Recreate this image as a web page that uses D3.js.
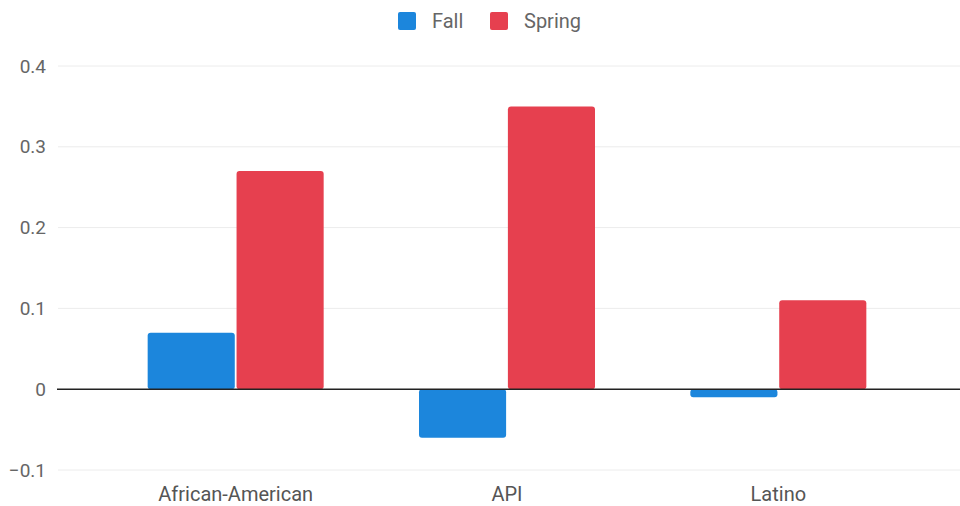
<!DOCTYPE html>
<html><head><meta charset="utf-8">
<script src="https://cdn.jsdelivr.net/npm/d3@7"></script>
<style>body{margin:0;background:#fff}svg{display:block;font-family:Roboto,"Noto Sans",sans-serif}</style>
</head><body><svg id="c" width="960" height="506"></svg>
<script>
const categories = ["African-American", "API", "Latino"];
const seriesNames = ["Fall", "Spring"];
const fallValues = [0.07, -0.06, -0.01];
const springValues = [0.27, 0.35, 0.11];
const yTicks = [-0.1, 0, 0.1, 0.2, 0.3, 0.4];
const colors = ["#1c86dc", "#e6404f"];

const svg = d3.select("#c");
const y = d3.scaleLinear().domain([-0.1, 0.4]).range([470, 66]);
const x = d3.scaleBand().domain(categories).range([100, 914]).paddingInner(0).paddingOuter(0);
const xi = d3.scaleBand().domain(seriesNames).range([0, 176]).paddingInner(0.02);

// grid
svg.append("g").selectAll("line").data(yTicks.filter(d => d !== 0)).join("line")
  .attr("x1", 58).attr("x2", 960).attr("y1", d => y(d)).attr("y2", d => y(d))
  .attr("stroke", "#ececec").attr("stroke-width", 1);

// y axis labels
const yAxis = d3.axisLeft(y).tickValues(yTicks).tickSize(0).tickPadding(0)
  .tickFormat(d => d === 0 ? "0" : d3.format(".1f")(d));
const ya = svg.append("g").attr("transform", "translate(46,0)").call(yAxis);
ya.select(".domain").remove();
ya.selectAll("text").attr("font-size", 19).attr("fill", "#666").attr("font-family", "Roboto");

// bars
const rows = categories.map((c, i) => ({c, vals: [fallValues[i], springValues[i]]}));
const g = svg.append("g");
rows.forEach(r => {
  r.vals.forEach((v, j) => {
    const x0 = x(r.c) + (x.bandwidth() - 176) / 2 + xi(seriesNames[j]);
    g.append("rect")
      .attr("x", x0).attr("width", xi.bandwidth())
      .attr("y", Math.min(y(v), y(0))).attr("height", Math.abs(y(v) - y(0)))
      .attr("rx", 3).attr("fill", colors[j]);
  });
});

// zero line
svg.append("line").attr("x1", 57).attr("x2", 960).attr("y1", y(0)).attr("y2", y(0))
  .attr("stroke", "#222").attr("stroke-width", 1.5);

// x labels
const xAxis = d3.axisBottom(x).tickSize(0).tickPadding(0);
const xa = svg.append("g").attr("transform", "translate(0,487)").call(xAxis);
xa.select(".domain").remove();
xa.selectAll("text").attr("font-size", 20).attr("fill", "#555").attr("font-family", "Roboto");

// legend
const leg = svg.append("g");
const legX = [398, 490];
seriesNames.forEach((s, j) => {
  leg.append("rect").attr("x", legX[j]).attr("y", 12).attr("width", 18).attr("height", 18)
    .attr("rx", 2).attr("fill", colors[j]);
  leg.append("text").attr("x", legX[j] + 34).attr("y", 28).text(s)
    .attr("font-size", 20).attr("fill", "#666");
});
</script></body></html>
